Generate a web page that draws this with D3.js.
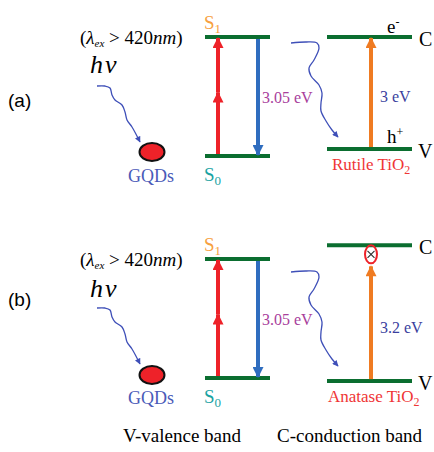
<!DOCTYPE html>
<html>
<head>
<meta charset="utf-8">
<script src="https://cdn.jsdelivr.net/npm/d3@7"></script>
<style>
  body { margin: 0; background: #fff; }
</style>
</head>
<body>
<div id="chart"></div>
<script>
// panel data
const panels = ["(a)", "(b)"];
const gqdS0 = [0, 0];
const gqdS1 = [3.05, 3.05];
const gqdGapLabel = ["3.05 eV", "3.05 eV"];
const tio2Names = ["Rutile", "Anatase"];
const tio2Vb = [0.18, -0.08];
const tio2Cb = [3.05, 3.4];
const tio2GapLabel = ["3 eV", "3.2 eV"];
const excitation = "420";
const bottomLabels = ["V-valence band", "C-conduction band"];

const width = 434, height = 452;
const panelOffset = [0, 222];
const serif = "'Liberation Serif', 'Times New Roman', 'DejaVu Serif', serif";

const svg = d3.select("#chart").append("svg")
    .attr("width", width)
    .attr("height", height)
    .attr("font-family", serif);

const defs = svg.append("defs");
function marker(id, color, w, h) {
    defs.append("marker")
        .attr("id", id)
        .attr("viewBox", "0 0 10 10")
        .attr("refX", 9).attr("refY", 5)
        .attr("markerWidth", w).attr("markerHeight", h)
        .attr("markerUnits", "userSpaceOnUse")
        .attr("orient", "auto")
        .append("path")
        .attr("d", "M0,0 L10,5 L0,10 Z")
        .attr("fill", color);
}
marker("redHead", "#ee2229", 12, 11);
marker("blueHead", "#2f6dbf", 12, 11);
marker("orangeHead", "#ef7b22", 12, 11);
marker("wavyHead", "#3e4fb8", 7, 6);

const green = "#0b6e30";
const xGqd = [205, 270], xRed = 218, xBlue = 258;
const xTi = [327, 412], xOrange = 371;

// photon squiggle shapes (relative to start point)
const wavyLeft = [[0, 0], [8, 0], [13, 2], [15, 9], [18, 14], [25, 19], [28, 26], [30, 34], [35, 41], [43, 56]];
const wavyRight = [[0, 0], [15, -1], [26, 0], [28, 5], [23, 17], [18, 25], [20, 33], [28, 42], [31, 50], [30, 60], [30, 68], [35, 78], [41, 87], [47, 94]];
const wavyLine = d3.line().curve(d3.curveCatmullRom);
function squiggle(shape, x0, y0) {
    return wavyLine(shape.map(p => [x0 + p[0], y0 + p[1]]));
}

panels.forEach((label, i) => {
    const off = panelOffset[i];
    const y = d3.scaleLinear().domain([0, 3.05]).range([156 + off, 37 + off]);
    const g = svg.append("g");

    // panel label
    g.append("text")
        .attr("x", 8).attr("y", 107 + (i ? 199 : 0))
        .attr("font-family", "'Liberation Sans', Arial, sans-serif")
        .attr("font-size", 19)
        .text(label);

    // excitation text
    const ex = g.append("text")
        .attr("x", 80).attr("y", 44 + off)
        .attr("font-size", 19);
    ex.append("tspan").text("(");
    ex.append("tspan").attr("font-style", "italic").text("λ");
    ex.append("tspan").attr("font-style", "italic").attr("font-size", 11).attr("dy", 3).text("ex");
    ex.append("tspan").attr("dy", -3).text(" > " + excitation);
    ex.append("tspan").attr("font-style", "italic").text("nm");
    ex.append("tspan").text(")");

    g.append("text")
        .attr("x", 90).attr("y", 73 + off + (i ? 2 : 0))
        .attr("font-size", 26)
        .attr("font-style", "italic")
        .attr("letter-spacing", 2)
        .text("hν");

    g.append("path")
        .attr("d", squiggle(wavyLeft, 97, 86 + off))
        .attr("fill", "none")
        .attr("stroke", "#3e4fb8")
        .attr("stroke-width", 1.3)
        .attr("marker-end", "url(#wavyHead)");

    g.append("ellipse")
        .attr("cx", 152).attr("cy", 152 + off + (i ? 1 : 0))
        .attr("rx", 12.5).attr("ry", 9)
        .attr("fill", "#ee2229")
        .attr("stroke", "#111")
        .attr("stroke-width", 2);

    g.append("text")
        .attr("x", 151).attr("y", 182 + off)
        .attr("text-anchor", "middle")
        .attr("font-size", 18)
        .attr("fill", "#4a5ab8")
        .text("GQDs");

    // GQD levels
    [gqdS0[i], gqdS1[i]].forEach(e => {
        g.append("line")
            .attr("x1", xGqd[0]).attr("x2", xGqd[1])
            .attr("y1", y(e)).attr("y2", y(e))
            .attr("stroke", green).attr("stroke-width", 4);
    });

    const yMid = (y(gqdS0[i]) + y(gqdS1[i])) / 2 - 4;
    g.append("line")
        .attr("x1", xRed).attr("x2", xRed)
        .attr("y1", y(gqdS0[i]) - 2).attr("y2", yMid)
        .attr("stroke", "#ee2229").attr("stroke-width", 4)
        .attr("marker-end", "url(#redHead)");
    g.append("line")
        .attr("x1", xRed).attr("x2", xRed)
        .attr("y1", yMid).attr("y2", y(gqdS1[i]) + 1)
        .attr("stroke", "#ee2229").attr("stroke-width", 4)
        .attr("marker-end", "url(#redHead)");
    g.append("line")
        .attr("x1", xBlue).attr("x2", xBlue)
        .attr("y1", y(gqdS1[i]) + 2).attr("y2", y(gqdS0[i]) - 1)
        .attr("stroke", "#2f6dbf").attr("stroke-width", 4)
        .attr("marker-end", "url(#blueHead)");

    const s1 = g.append("text").attr("x", 204).attr("y", y(gqdS1[i]) - 8)
        .attr("font-size", 19).attr("fill", "#f7a040");
    s1.append("tspan").text("S");
    s1.append("tspan").attr("font-size", 13).attr("dy", 4).text("1");
    const s0 = g.append("text").attr("x", 204).attr("y", y(gqdS0[i]) + 25)
        .attr("font-size", 19).attr("fill", "#1aa3a3");
    s0.append("tspan").text("S");
    s0.append("tspan").attr("font-size", 13).attr("dy", 4).text("0");

    g.append("text")
        .attr("x", 262).attr("y", yMid + 10)
        .attr("font-size", 16)
        .attr("fill", "#a8409c")
        .text(gqdGapLabel[i]);

    g.append("path")
        .attr("d", squiggle(wavyRight, 291, 43 + off + (i ? 7 : 0)))
        .attr("fill", "none")
        .attr("stroke", "#3e4fb8")
        .attr("stroke-width", 1.3)
        .attr("marker-end", "url(#wavyHead)");

    // TiO2 bands
    [tio2Vb[i], tio2Cb[i]].forEach(e => {
        g.append("line")
            .attr("x1", xTi[0]).attr("x2", xTi[1])
            .attr("y1", y(e)).attr("y2", y(e))
            .attr("stroke", green).attr("stroke-width", 4);
    });
    const yTop = i ? y(tio2Cb[i]) + 21 : y(tio2Cb[i]) + 1;
    g.append("line")
        .attr("x1", xOrange).attr("x2", xOrange)
        .attr("y1", y(tio2Vb[i]) - 2).attr("y2", yTop)
        .attr("stroke", "#ef7b22").attr("stroke-width", 4)
        .attr("marker-end", "url(#orangeHead)");

    g.append("text")
        .attr("x", 380).attr("y", (y(tio2Vb[i]) + yTop) / 2 + 9)
        .attr("font-size", 16)
        .attr("fill", "#3b3f9e")
        .text(tio2GapLabel[i]);

    g.append("text").attr("x", 419).attr("y", y(tio2Cb[i]) + 9)
        .attr("font-size", 20).text("C");
    g.append("text").attr("x", 418).attr("y", y(tio2Vb[i]) + 9)
        .attr("font-size", 20).text("V");

    const name = g.append("text")
        .attr("x", i ? 328 : 332).attr("y", y(tio2Vb[i]) + 21)
        .attr("font-size", 17)
        .attr("fill", "#ef3535");
    name.append("tspan").text(tio2Names[i] + " TiO");
    name.append("tspan").attr("font-size", 12).attr("dy", 4).text("2");

    if (i === 0) {
        const e = g.append("text").attr("x", 387).attr("y", y(tio2Cb[i]) - 4).attr("font-size", 19);
        e.append("tspan").text("e");
        e.append("tspan").attr("font-size", 12).attr("dy", -7).text("-");
        const h = g.append("text").attr("x", 387).attr("y", y(tio2Vb[i]) - 6).attr("font-size", 19);
        h.append("tspan").text("h");
        h.append("tspan").attr("font-size", 12).attr("dy", -7).text("+");
    } else {
        const cy = y(tio2Cb[i]) + 9;
        g.append("ellipse")
            .attr("cx", xOrange).attr("cy", cy)
            .attr("rx", 6).attr("ry", 9)
            .attr("fill", "none")
            .attr("stroke", "#ee2229").attr("stroke-width", 2);
        g.append("path")
            .attr("d", `M${xOrange - 3.5},${cy - 3.5}L${xOrange + 3.5},${cy + 3.5}M${xOrange + 3.5},${cy - 3.5}L${xOrange - 3.5},${cy + 3.5}`)
            .attr("stroke", "#333").attr("stroke-width", 1.2);
    }
});

svg.selectAll(".bottom")
    .data(bottomLabels)
    .enter().append("text")
    .attr("x", (d, i) => i ? 277 : 123)
    .attr("y", 442)
    .attr("font-size", 19)
    .text(d => d);
</script>
</body>
</html>
